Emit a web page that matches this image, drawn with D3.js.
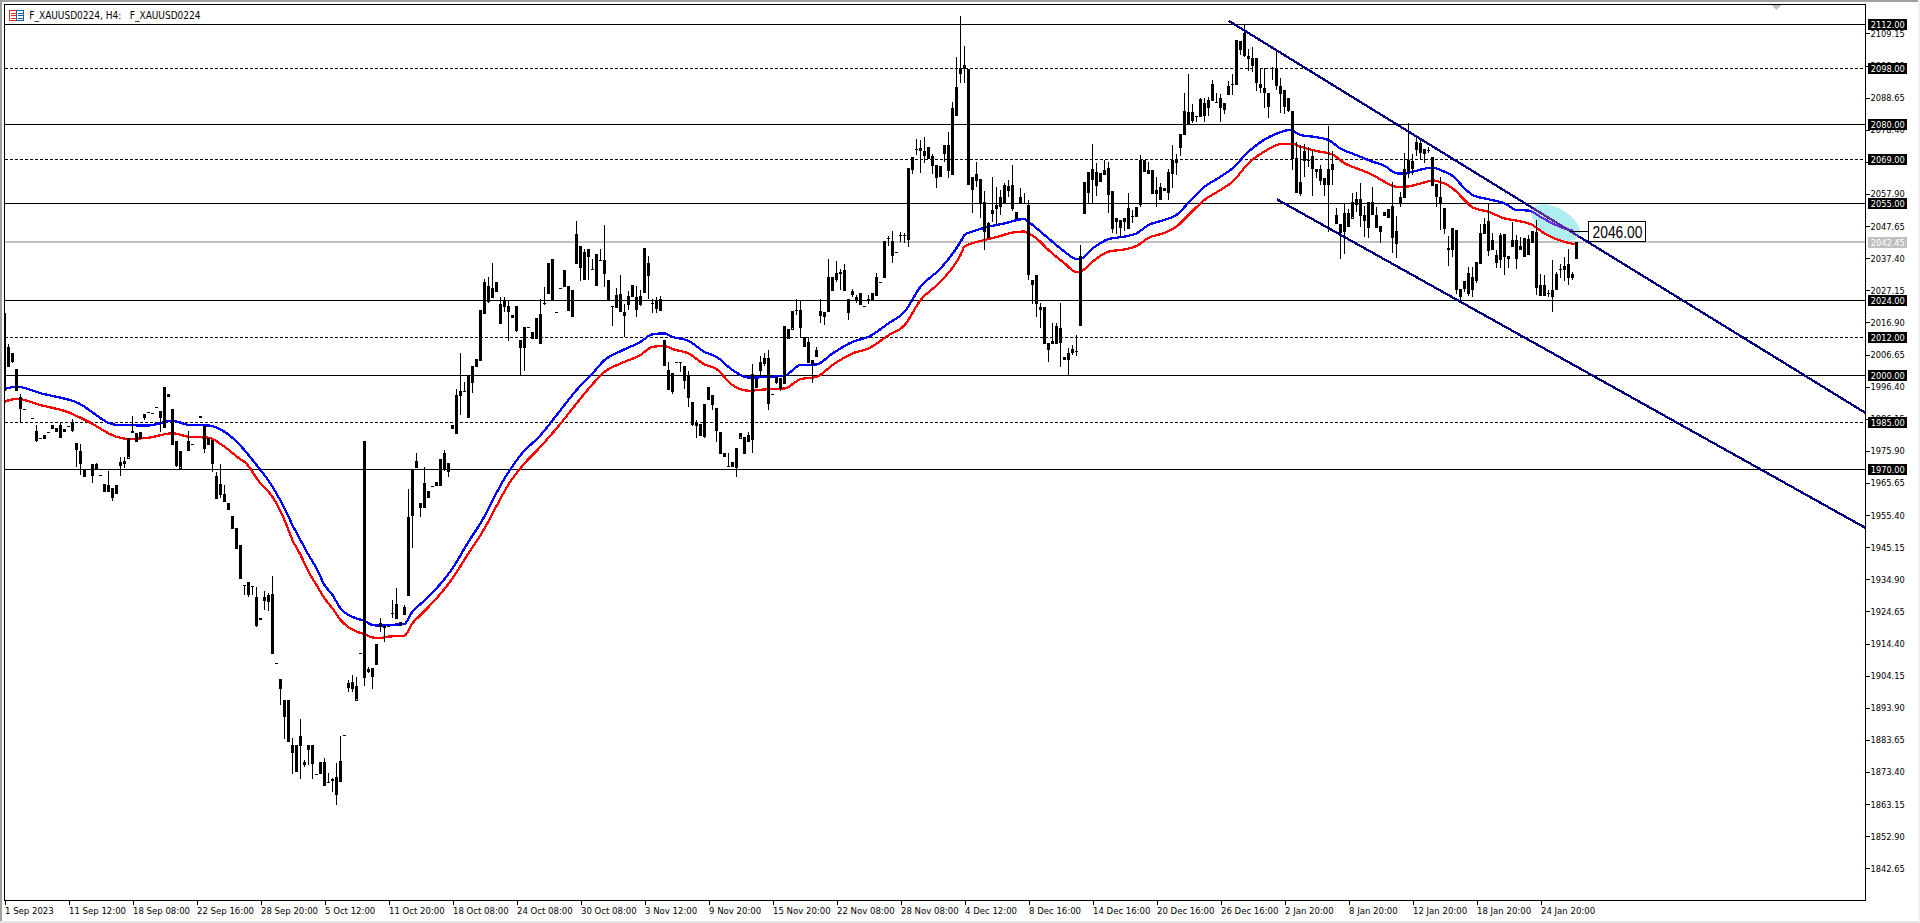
<!DOCTYPE html>
<html><head><meta charset="utf-8">
<script src="https://cdnjs.cloudflare.com/ajax/libs/d3/7.8.5/d3.min.js"></script>
<style>
html,body{margin:0;padding:0;background:#fff;overflow:hidden}
svg{display:block}
text{font-family:"DejaVu Sans Condensed","DejaVu Sans","Liberation Sans",sans-serif}
</style></head><body><div id="c"></div>
<script>
const title="F_XAUUSD0224, H4:   F_XAUUSD0224";
const open=[
2020,2002.8,2007,2002,1993,1989.3,null,1986.3,1982.1,1979.9,
1981,1982,1984,1983.1,1984,1982.9,1983.9,1985,1978.3,1976,
1967.7,null,1968.2,1971.7,1968.2,1965.3,1965,1961,1965,1972.4,
1972.7,1973.8,1982.2,1979.1,1981.8,1987.6,1988.2,1987.9,1989.9,1986.8,
1983.4,1994,1989.2,1979,1970.6,null,1976,1978.2,null,1987,
1983.8,1978,1979.4,1961,1965.3,1962.1,1959.1,1955.1,1951.2,1946,
1933.1,1933.9,1932.9,1929.1,1922.4,1928.1,1928.1,1930.2,1908.1,1903.1,
1896.4,1896.4,1879.8,1881.9,1882,1876.6,1880.6,1882,1872.9,1876.5,
1876.7,1870.3,1871.1,1871.7,1870.6,1885.1,1900.4,1902,1896.6,1911.3,
1979,1906.3,1903.8,1907.7,1920.1,1920.1,1920.1,1924,1926.9,1921.4,
1923.8,1929.9,1955.2,1970.9,1959.4,1957.8,1963.2,1964.7,1965.9,1964.8,
1975.1,1969.5,1982.9,1981.5,1993.5,1995.1,1986.8,1998,2002.8,2005,
2020,2028.5,2025.1,2027,2016.8,2023.8,2022,2019.2,2022,2011.4,
2008.8,2015.4,2013.9,2011.7,2019.7,2023,2026.3,2037,2020.1,2028,
2033.6,2028.5,2018.7,2035.9,2041.2,2030.8,2040.2,2034,2028.7,2036.8,
2036.8,2030.4,2022.1,2021.7,2025.9,2019,2022.5,2025.1,2024.9,2022.7,
2026.3,2036,2023.1,2023.8,2024.5,2011.2,2001.7,1995.3,2004.3,2004.3,
2003.1,1999.9,1991.4,1984.9,1984.4,1980.9,1996.4,1993.7,1989.6,1982,
1974,1971.2,1972.3,1970.6,1980.2,1975.3,1981.1,1979.5,1996.1,2001.7,
2005.5,2005.7,1994,1997.8,1999.3,1997.7,2012,2015,2020.8,2021,
2012.1,2010.5,2004.9,2008,2020.6,2018.8,2020.6,2031.4,2030.7,2033,
2033.6,2024.5,2027,2023.8,2022.8,2022.1,2024.5,2024,2025.6,2029.7,
2031.4,2044,2043,2039.3,2044.7,2044.7,2043.4,2066.1,2072.3,2072.5,
2070.3,2072.8,2070,2067.1,2066.8,2071,2073.5,2064.2,2083.2,2096.3,
2099,2097.8,2063.2,2064.3,2062.6,2055.2,2044,2052,2053.6,2054.2,
2055.3,2059.2,2060.8,2052,2056.8,2055.1,2054.4,2030.6,2031.9,2021.9,
2021.9,2008.3,2010.4,2010.4,2015,2006,2005.4,2007.4,2007.9,2016,
2051.9,2058.6,2062.9,2065,2061.8,2064.3,2066.1,2058.8,2050.1,2049.6,
2049,2046.9,2051,2050.9,2054.7,2068.7,2065.7,2065.5,2059.2,2060,
2059.9,2058.7,2064.5,2068.7,2072.8,2077.2,2084.2,2081.5,2082.8,2082.6,
2087.1,2085.7,2092.9,2087.4,2088.4,2085.2,2089.8,2093,2093,2106.8,
2109.2,2101.9,2101.2,2101.2,2092.9,2091.6,2090,2098,2098,2092.3,
2091.1,2088.4,2084.4,2069.3,2058.4,2071.6,2068.7,2070.1,2065.1,2065.8,
2062.9,2061.3,2065.9,2051.2,2048.3,2045.8,2051.9,2050.4,2054.6,2056.2,
2051.2,2047.5,2055.3,2051.2,2047.7,2051,2050.6,2054,2042.1,2055.4,
2057,2065.5,2068.5,2072.1,2074.3,2070.9,2072,2069.6,2061,2056.8,
2053.3,2040.8,2040.2,2046.4,2027.5,2030,2026.4,2031.5,2030.4,2035.9,
2045.4,2049.2,2040.2,2038.4,2037.2,2045.1,2038,2041.4,2043.2,2040.4,
2038.1,2038.7,2042.6,2045.8,2029,2029,2026.2,2025.6,2027.4,2034.1,
2033.8,2035.5,2031.3,2037.6];
const high=[
2020.2,2010,2007,2002,1994,1989.3,null,1986.3,1984.1,1979.9,
1981,1982,1984,1983.1,1985,1982.9,1983.9,1986,1978.3,1978,
1970,null,1971.7,1972,1968.2,1965.3,1969.4,1963.9,1965,1974,
1974,1980.1,1987,1981.5,1981.8,1987.6,1988.2,1987.9,1989.9,1988.7,
1996.2,1994,1989.2,1979,1975.9,null,1982.2,1978.2,null,1987,
1983.8,1979.9,1979.4,1969,1971.7,1965,1959.1,1955.1,1951.2,1946,
1933.1,1933.9,1932.9,1932.6,1922.4,1931.2,1930.4,1936,1908.1,1903.1,
1896.4,1896.4,1884.1,1881.9,1890.2,1877.3,1881.9,1882,1872.9,1876.5,
1877.8,1873,1871.4,1876.4,1884.9,1885.1,1902.8,1904.4,1903.8,1911.3,
1979,1907,1906.5,1914.1,1922.4,1920.1,1920.1,1928.3,1932,1921.4,
1926.7,1963.6,1970,1975.3,1959.4,1970.9,1963.2,1964.7,1965.9,1973.2,
1976.2,1971.9,1984,1995.7,2007,1997.8,1999.8,2003.1,2005.1,2020.9,
2030.9,2031.4,2036,2029.9,2025,2025,2024,2019.2,2022,2011.4,
2015.3,2015.4,2013.9,2018.2,2024.5,2028.3,2035.9,2037,2020.1,2028,
2033.6,2028.5,2027.1,2049.2,2041.2,2040.2,2040.2,2037.3,2038.6,2040.2,
2047.9,2030.4,2022.1,2028,2032,2022.9,2027,2028.7,2028.5,2027.2,
2040.5,2038,2024.5,2025,2025.3,2011.2,2004.3,2000.9,2004.3,2004.3,
2003.1,2001.5,1991.4,1985.7,1984.4,1991,1996.4,1993.7,1989.6,1982,
1975.1,1975.1,1972.3,1976.7,1981.7,1980.4,1982,2003.5,1998.7,2006.1,
2007.2,2008,1994,1999.5,1999.3,2015.8,2014.9,2020.6,2024.5,2023.8,
2012.1,2012.1,2005,2008.9,2024.5,2020.2,2037.3,2031.4,2036.4,2034,
2035.5,2024.5,2027.7,2025.5,2026.4,2022.1,2025.6,2026.3,2032.8,2029.7,
2042.9,2044.4,2046,2039.3,2045.8,2045.5,2066.1,2069.8,2075.3,2075.1,
2076,2072.8,2070.6,2067.1,2066.8,2073.5,2077.8,2087.3,2101.7,2114.8,
2105,2097.8,2063.2,2068,2062.6,2058.8,2049,2063.2,2060.2,2059.1,
2061.5,2062.4,2067.1,2052,2059.7,2058.1,2056,2030.6,2031.9,2023.2,
2021.9,2010.2,2016.8,2016.6,2023,2006,2008.6,2009.7,2012.9,2041.6,
2061.8,2065,2074,2067.7,2064.5,2068.9,2068.2,2058.8,2050.1,2049.6,
2050.1,2058.3,2052.8,2053.8,2070.3,2068.7,2068,2065.5,2063.2,2061.5,
2059.9,2066,2073.5,2070.6,2076.9,2090,2096.2,2086.6,2082.8,2088.6,
2088.4,2089,2094.3,2090,2089.8,2087,2094,2096.2,2107,2106.8,
2111.8,2104.3,2104.9,2101.2,2098,2098,2090,2098.5,2103.3,2094.8,
2091.1,2088.4,2084.4,2074.6,2073.5,2074,2073,2072,2065.8,2067.1,
2062.9,2079.6,2071.7,2053.3,2048.3,2054.9,2053,2058.3,2058.5,2061.5,
2054,2055.4,2060,2053.8,2047.7,2052,2053,2061.8,2051,2058.6,
2071,2080.4,2070.8,2076.2,2075.1,2072.3,2073,2069.6,2061,2063.4,
2053.3,2044.5,2046.9,2046.4,2027.5,2030,2034.5,2034.5,2036.1,2048.3,
2050.1,2054.7,2045.3,2040,2045.5,2045.1,2038,2049,2044.8,2044.2,
2044,2044.8,2046,2049.5,2032.3,2032,2027.4,2036.8,2033.1,2035.5,
2037.7,2040.2,2033.1,2042.6];
const low=[
1993.2,2002.8,2004,1995,1985,1989,null,1986.3,1978.8,1979.9,
1979.7,1982,1982.8,1981.9,1980,1982,1983.9,1982,1970.9,1968.2,
1967.5,null,1965.7,1970,1968.2,1962.9,1962.9,1960,1962.1,1968,
1970.3,1973.8,1981.7,1979.1,1979.7,1985.8,1988.2,1987.9,1989.9,1982,
1983.4,1993,1977.8,1970.9,1970.6,null,1976,1978.2,null,1986.5,
1975.1,1978,1969,1961,1961,1959.7,1957,1951.1,1944.5,1935.1,
1929.9,1929.1,1929.9,1919.8,1921.9,1925.1,1924.9,1911.2,1908.1,1894.8,
1883.8,1883.1,1872.8,1873.4,1871.3,1874.9,1875.6,1871,1872.9,1872.8,
1869,1870,1867.1,1862.7,1870.6,1885.1,1899,1899,1896.6,1911.3,
1900.9,1904.9,1899.9,1907.7,1918.2,1915,1920.1,1922.4,1922.2,1920.1,
1923.8,1929.9,1944.9,1970.9,1954.9,1957.8,1961,1964.7,1964.7,1964.8,
1969.6,1967.7,1982.9,1981.5,1987.4,1995,1986.8,1994.5,2002.8,2005,
2020,2023,2025.1,2027,2016.8,2020.3,2011,2018.4,2013.9,2000,
2001.4,2015.4,2011.7,2011.7,2010,2022.4,2026.3,2024,2020.1,2028,
2028.3,2020.6,2018.7,2035.9,2030.2,2030.8,2030.4,2034,2028.7,2036.8,
2028.3,2024,2015.8,2021.7,2020.2,2012.1,2021,2025.1,2018.7,2022.1,
2026.3,2024.5,2020,2020,2020.6,2003,1995.3,1993.9,2004.3,2001.1,
1995.8,1990,1983.9,1979.9,1980.6,1980,1992.1,1988.9,1978.8,1974.9,
1974,1970.6,1970.6,1967.6,1980.2,1975.3,1978.8,1975.3,1996.1,2000,
2003,1988.9,1994,1997.2,1995,1997.7,2012,2015,2019.2,2011.8,
2008.9,2003.8,1997.7,2005.9,2016.6,2016,2020.6,2027,2029.8,2027.2,
2027,2017.8,2025.1,2023,2022.8,2022.1,2022.7,2024,2025.6,2029.7,
2031.4,2041.2,2035.9,2039.3,2042.6,2042.4,2041.1,2064.3,2070.3,2064.5,
2067.7,2069,2064.3,2059.9,2063.4,2068.2,2063.1,2064.2,2083.2,2093.4,
2093.4,2060.8,2051.9,2060,2050.3,2040,2044,2049,2047.7,2051.2,
2055.3,2057,2052.5,2049.8,2054.7,2055.1,2030.4,2022.7,2018.7,2015,
2010.2,2004.3,2010.4,2010.4,2002.8,2005.1,2000,2006.4,2006.2,2016,
2051.9,2055,2054.9,2057.2,2061.8,2064.3,2051.7,2045.5,2045,2043.7,
2046,2046.9,2048.7,2050.9,2053.6,2065,2064.5,2057.9,2053.8,2056,
2058.9,2056,2059.7,2064,2070,2077.2,2080.4,2080.4,2081,2082.6,
2081,2082.8,2087.6,2087.4,2081,2083.4,2089.8,2089.5,2093,2102.2,
2101.7,2097,2096.9,2090.9,2090,2085.5,2082.3,2094.3,2091,2083.6,
2083.4,2084.2,2065.5,2058.1,2057.3,2063.4,2066.6,2057.3,2063,2060.8,
2057.3,2045.8,2060.8,2048.3,2037,2038.7,2047.5,2050.4,2052,2047.5,
2044.3,2043.7,2051.2,2046.9,2042.1,2051,2050.6,2039,2037.6,2053.8,
2057,2062.9,2064,2070,2068.7,2067.7,2071,2060.4,2053.8,2046.4,
2045,2034.9,2037.9,2026,2023.5,2026.7,2025.3,2024.9,2029.6,2035.9,
2045.4,2038.1,2040.2,2034.2,2034.2,2032,2034.2,2041.4,2033.9,2040.4,
2038.1,2038.7,2042.6,2025.6,2025.4,2025.6,2025,2020.3,2027.4,2031,
2030.2,2028.9,2030.5,2037.6];
const close=[
1995,2009,2004,1995,1989.2,1989,null,1986.3,1978.8,1979.9,
1979.7,1982,1982.8,1981.9,1980,1982,1983.9,1982,1976,1971.9,
1970,null,1971.7,1970,1968.2,1962.9,1962.9,1963.9,1962.1,1971,
1971.9,1980.1,1981.7,1981.5,1979.7,1986.3,1988.2,1987.9,1989.9,1988.7,
1996.2,1993,1977.8,1970.9,1975.9,null,1979,1978.2,null,1986.5,
1976.6,1979.9,1971.6,1967.9,1961.8,1959.7,1957,1951.1,1944.5,1935.1,
1933.1,1929.9,1932.9,1919.8,1921.9,1929.1,1929.9,1911.2,1908.1,1899.9,
1891.1,1883.1,1881.9,1873.4,1885,1875.6,1881.9,1875.8,1872.9,1872.8,
1869,1870,1870.6,1866,1877,1885.1,1901.7,1899.9,1901,1911.3,
1903.2,1905.2,1906.5,1914.1,1921.1,1919.5,1920.1,1924,1922.2,1920.1,
1926,1954.7,1970,1972.7,1957.9,1965.5,1961,1964.7,1964.7,1973.2,
1969.6,1971.9,1984,1993.6,1994.9,1995.1,1999.8,2003.1,2005.1,2020.9,
2029.9,2023.5,2028,2029.9,2022.9,2021.9,2020,2018.4,2013.9,2008.8,
2015.3,2015.4,2011.7,2018.2,2010,2023,2035.9,2024,2020.1,2028,
2028.3,2020.6,2027.1,2045,2034.2,2039.5,2037.8,2034,2038.6,2036.8,
2032.4,2024,2022.1,2025.5,2020.2,2020.1,2025.2,2028.7,2020.6,2025.2,
2040.5,2031.7,2023.1,2021.2,2020.6,2003,1995.3,2000.9,2004.3,2004.3,
1998.3,1992.8,1983.9,1983.9,1980.6,1991,1992.1,1990.4,1982.2,1974.9,
1975.1,1971.2,1970.6,1976.7,1981.7,1980.4,1978.8,2000.3,1998.7,2004.3,
2003.6,1991,1994,1999.5,1995.8,2015.8,2014.9,2020.6,2020.8,2015.2,
2008.9,2003.8,2003.3,2005.9,2019,2020.2,2031.4,2027,2032.7,2032.5,
2027,2020,2025.8,2024.9,2026.4,2022.1,2023.8,2026.3,2031.4,2029.7,
2042.9,2044,2038.1,2039.3,2044.7,2044.7,2066.1,2069.8,2072.3,2071.4,
2071.7,2069,2066.9,2062.8,2063.4,2073.5,2065.2,2085.2,2092.1,2098,
2097.8,2060.8,2059,2062.1,2054.6,2045.5,2048.5,2052.8,2054.4,2057,
2060.8,2060.5,2053,2049.8,2054.7,2055.1,2032,2029,2022.7,2020.9,
2010.2,2010.2,2011,2015.9,2010.2,2005.1,2007.2,2008.3,2007.9,2038.1,
2061.8,2065,2066,2060.4,2064.5,2065.6,2057.6,2046.7,2048.7,2046.9,
2050.1,2053.3,2051,2053.8,2068.7,2065,2064.5,2057.9,2057.9,2056,
2058.9,2065,2068.7,2067.9,2076.9,2084.5,2080.4,2084,2082.8,2088.1,
2083,2087.9,2087.6,2087.4,2085.2,2087,2092.4,2093,2107,2103.8,
2101.7,2101,2098.8,2093.2,2091.6,2090,2085.5,2098,2092.1,2089.8,
2085.8,2084.2,2069,2058.1,2061.8,2068.4,2068.7,2066,2065.8,2062,
2060.6,2066,2067.5,2048.3,2045.3,2051.7,2047.5,2055.4,2056.2,2050.9,
2049.4,2055.4,2051.2,2046.9,2045.9,2052,2053,2043.7,2046,2057,
2066,2068.9,2066,2074.4,2071.1,2072.3,2072,2060.4,2057,2054.6,
2046.6,2040.2,2046.9,2027.3,2024.9,2027.5,2032.8,2027.5,2036.1,2045.6,
2048.2,2039.5,2043.2,2035.9,2044.8,2037.9,2037.2,2043.2,2037.2,2041.3,
2044,2043.5,2046,2028,2025.4,2025.6,2026.2,2027.4,2032.3,2034.1,
2034.9,2031,2032.3,2042.6];

const blueBars=[0,3,9,18,28,36,42,46,51,58,62,64,66,68,70,72,74,76,78,80,82,84,86,88,90,92,94,96,100,102,104,108,112,116,119,125,129,134,139,143,147,150,154,159,162,165,167,171,175,178,182,186,191,195,199,203,207,212,216,221,225,229,234,239,240,242,245,248,250,254,255,256,261,265,268,269,272,276,280,283,286,290,293,296,300,304,307,311,316,319,321,322,324,327,331,334,338,342,345,348,350,352,357,360,362,365,367,371,375,378,381,384,387,390,392];
const blueValues=[1995.6,1996.4,1994.3,1991.4,1984.2,1984,1985.5,1984.2,1984,1978.9,1973,1969.8,1966.4,1962.3,1957.6,1952.2,1947.4,1942.7,1938.4,1933.1,1929.9,1925.6,1923.5,1922.4,1921.6,1920.3,1920.1,1920.3,1920.7,1924.6,1927,1932,1938.4,1946.9,1952.8,1967.1,1974.5,1980.9,1988.9,1995.3,2000.6,2004.9,2007.7,2010.7,2013.1,2013.4,2012.3,2011,2007.5,2005.9,2001.7,1999.3,1999.5,1999.9,2003.3,2003.5,2007,2010.7,2012.3,2016.6,2020.3,2028.3,2034.1,2042.6,2044.8,2045.9,2047.1,2048,2048.5,2049.8,2049.9,2049,2043.7,2039.5,2037.1,2037.2,2040.5,2043.5,2044.3,2045.3,2048,2049.6,2051.2,2055.1,2060.2,2063.4,2066.1,2071.4,2076,2077.6,2078.3,2078.1,2076.7,2076.2,2075.1,2072.4,2070.3,2068.2,2066.9,2064.5,2064.4,2065,2066.3,2065,2063.7,2059.7,2057.6,2056.2,2054.9,2052.8,2052.6,2050.6,2048.5,2046.9,2046.2];
const redBars=[0,3,9,16,21,28,31,36,42,46,51,55,59,60,64,66,68,70,72,74,76,78,80,82,84,86,88,90,92,94,96,100,102,104,108,112,116,119,127,130,134,139,143,147,150,154,159,162,165,167,171,175,178,182,186,191,195,199,203,207,212,216,221,225,229,234,239,240,245,249,252,255,256,258,261,265,268,269,272,276,280,283,286,290,293,296,300,304,307,311,316,319,322,324,328,332,335,338,342,345,348,350,355,357,360,362,365,367,371,375,378,382,385,387,390,393];
const redValues=[1991.6,1992.5,1990.5,1988.2,1985.2,1980.4,1979.7,1980.1,1981.5,1980.4,1980.1,1977.2,1973.2,1972.4,1965.5,1962.9,1959.1,1953.8,1947.4,1942.7,1937.3,1933.1,1928.8,1925.6,1921.9,1919.6,1918.2,1917.4,1916.3,1916.2,1916.6,1916.9,1920.9,1923.5,1928.8,1935.2,1943.2,1949,1967.1,1971.9,1977.2,1984.6,1991,1997.2,2001.1,2003.8,2006.5,2009.1,2009.4,2008.4,2007,2003.5,2002,1996.9,1995.1,1995.6,1995.8,1998.8,1999.5,2003.3,2007,2008.6,2012.8,2016,2024,2029.9,2038.4,2041.1,2043.2,2044.5,2045.6,2045.9,2045.3,2043.7,2040,2035.8,2032.9,2033.1,2036.3,2039.5,2040.2,2041.3,2043.9,2045.5,2047.5,2051.2,2056,2059.2,2061.8,2067.7,2072.2,2073.8,2073.9,2073,2071.6,2070.5,2067.7,2066.1,2064,2061.8,2060.2,2060.2,2061.6,2062.2,2061.2,2059.7,2056,2053.6,2052.2,2050.1,2049.4,2048,2045.3,2044,2042.6,2041.8];

const solidLevels=[2112,2080,2055,2024,2000,1970];
const dashedLevels=[2098,2069,2012,1985];
const currentPrice=2042.45;
const priceTicks=[2109.15,2098.90,2088.65,2078.40,2068.15,2057.90,2047.65,2037.40,2027.15,2016.90,2006.65,1996.40,1986.15,1975.90,1965.65,1955.40,1945.15,1934.90,1924.65,1914.40,1904.15,1893.90,1883.65,1873.40,1863.15,1852.90,1842.65];
const timeTickBars=[0,16,32,48,64,80,96,112,128,144,160,176,192,208,224,240,256,272,288,304,320,336,352,368,384];
const timeTickLabels=["1 Sep 2023","11 Sep 12:00","18 Sep 08:00","22 Sep 16:00","28 Sep 20:00","5 Oct 12:00","11 Oct 20:00","18 Oct 08:00","24 Oct 08:00","30 Oct 08:00","3 Nov 12:00","9 Nov 20:00","15 Nov 20:00","22 Nov 08:00","28 Nov 08:00","4 Dec 12:00","8 Dec 16:00","14 Dec 16:00","20 Dec 16:00","26 Dec 16:00","2 Jan 20:00","8 Jan 20:00","12 Jan 20:00","18 Jan 20:00","24 Jan 20:00"];
const channelBars=[[306,465.25],[318.1,465.25]];
const channelPrices=[[2113.2,1988.0],[2056.2,1951.3]];
const markerBars=[391,396];
const markerPrice=2046;
const zoneBar=387.8, zonePrice=2048.8;

const W=1920,H=923,L=4.5,R=1865.5,T=4.5,B=900.5;
const x=d3.scaleLinear().domain([0,1]).range([4.5,8.5]);
const y=d3.scaleLinear().domain([2112,1842.65]).range([24.5,868.3]);
const svg=d3.select("#c").append("svg").attr("width",W).attr("height",H);
const defs=svg.append("defs");
defs.append("clipPath").attr("id","plot").append("rect").attr("x",L).attr("y",T).attr("width",R-L).attr("height",B-T);
const zoneAttrs=s=>s.attr("transform",`translate(${x(zoneBar)},${y(zonePrice)}) rotate(30)`).attr("rx",27).attr("ry",14);
defs.append("clipPath").attr("id","zone").append("ellipse").call(zoneAttrs);

// window chrome
svg.append("rect").attr("width",W).attr("height",2).attr("fill","#a0a0a0");
svg.append("rect").attr("width",2).attr("height",H).attr("fill","#a0a0a0");
svg.append("rect").attr("y",921).attr("width",W).attr("height",2).attr("fill","#e4e4e4");
svg.append("rect").attr("x",1918).attr("width",2).attr("height",H).attr("fill","#f0f0f0");

const g=svg.append("g").attr("clip-path","url(#plot)");
g.append("ellipse").call(zoneAttrs).attr("fill","#AFEEEE");
const crisp=s=>s.attr("shape-rendering","crispEdges");
// levels
g.append("line").attr("x1",L).attr("x2",R).attr("y1",Math.round(y(currentPrice))).attr("y2",Math.round(y(currentPrice))).attr("stroke","#C0C0C0").attr("stroke-width",2).call(crisp);
g.selectAll(".lvl").data(solidLevels.concat(dashedLevels)).join("line").attr("x1",L).attr("x2",R)
 .attr("y1",d=>Math.floor(y(d))+.5).attr("y2",d=>Math.floor(y(d))+.5).attr("stroke","#000").attr("stroke-width",1)
 .attr("stroke-dasharray",d=>dashedLevels.includes(d)?"3,2":null).call(crisp);

// moving averages
const lineGen=d3.line().curve(d3.curveMonotoneX);
const bluePath=lineGen(blueBars.map((b,i)=>[x(b),y(blueValues[i])]));
const redPath=lineGen(redBars.map((b,i)=>[x(b),y(redValues[i])]));
const ch=(i)=>d3.line()(channelBars[i].map((b,j)=>[x(b),y(channelPrices[i][j])]));
const stroke=(p,c,w)=>p.attr("fill","none").attr("stroke",c).attr("stroke-width",w).attr("stroke-linejoin","round").call(crisp);
g.append("path").attr("d",bluePath).call(stroke,"#0000FF",2.3);
g.append("path").attr("d",redPath).call(stroke,"#FF0000",2.3);

// candles
const idx=d3.range(open.length).filter(i=>open[i]!==null);
g.selectAll(".wick").data(idx).join("line").attr("x1",i=>Math.floor(x(i))+.5).attr("x2",i=>Math.floor(x(i))+.5)
 .attr("y1",i=>y(high[i])).attr("y2",i=>y(low[i])).attr("stroke","#000").attr("stroke-width",1).call(crisp);
g.selectAll(".body").data(idx).join("rect").each(function(i){
  const up=close[i]>open[i];
  const top=y(Math.max(open[i],close[i])),bot=y(Math.min(open[i],close[i]));
  const s=d3.select(this).call(crisp);
  if(up){ s.attr("x",x(i)-1).attr("width",2).attr("y",Math.round(top)+.5).attr("height",Math.max(1,Math.round(bot-top))).attr("fill","none").attr("stroke","#000"); }
  else  { s.attr("x",x(i)-1.5).attr("width",3).attr("y",Math.round(top)).attr("height",Math.max(1,Math.round(bot-top))).attr("fill","#000"); }
});

// channel + marker
g.append("path").attr("d",ch(0)).call(stroke,"#000080",2.3);
g.append("path").attr("d",ch(1)).call(stroke,"#000080",2.3);
const inZone=g.append("g").attr("clip-path","url(#zone)");
inZone.append("path").attr("d",bluePath).call(stroke,"#6A2CE0",2.3);
inZone.append("path").attr("d",ch(0)).call(stroke,"#5A2A9E",2.3);
g.append("line").attr("x1",x(markerBars[0])).attr("x2",x(markerBars[1])).attr("y1",Math.floor(y(markerPrice))+.5).attr("y2",Math.floor(y(markerPrice))+.5).attr("stroke","#000").call(crisp);
const mk=svg.append("g").attr("transform",`translate(${x(markerBars[1])},${Math.floor(y(markerPrice))+.5})`);
mk.append("rect").attr("x",0).attr("y",-10).attr("width",57).attr("height",20).attr("fill","#fff").attr("stroke","#000").call(crisp);
mk.append("text").attr("x",4).attr("y",6).attr("font-size",16).attr("textLength",50).attr("lengthAdjust","spacingAndGlyphs").attr("fill","#000").style("font-family","'Liberation Sans',sans-serif").text(markerPrice.toFixed(2));

// frame
svg.append("rect").attr("x",L).attr("y",T).attr("width",R-L).attr("height",B-T).attr("fill","none").attr("stroke","#000").call(crisp);
svg.append("path").attr("d",d3.line()([[1771.5,5],[1781.5,5],[1776.5,10]])).attr("fill","#c0c0c0");

// axes
const ay=d3.axisRight(y).tickValues(priceTicks).tickSize(4).tickPadding(1).tickFormat(d3.format(".2f"));
const yg=svg.append("g").attr("transform",`translate(${R},0)`).call(ay);
yg.select(".domain").remove();
yg.selectAll("text").attr("font-size",9.2).attr("fill","#000").style("font-family",null);
yg.selectAll("line").call(crisp);
const ax=d3.axisBottom(x).tickValues(timeTickBars).tickSize(4).tickPadding(2).tickFormat((d,i)=>timeTickLabels[i]);
const xg=svg.append("g").attr("transform",`translate(0,${B})`).call(ax);
xg.select(".domain").remove();
xg.selectAll("text").attr("font-size",9.5).attr("fill","#000").attr("text-anchor","start").attr("dy",null).attr("y",13).style("font-family",null);
xg.selectAll("line").call(crisp);

// level tags
const tag=(p,bg,fg)=>{
  const yy=Math.floor(y(p))+.5;
  svg.append("rect").attr("x",1868).attr("y",yy-5.5).attr("width",39).attr("height",11).attr("fill",bg).call(crisp);
  svg.append("text").attr("x",1870.7).attr("y",yy+3.5).attr("font-size",9.2).attr("fill",fg).text(p.toFixed(2));
};
solidLevels.concat(dashedLevels).forEach(p=>tag(p,"#000","#fff"));
tag(currentPrice,"#C0C0C0","#fff");

// title
const tg=svg.append("g");
tg.append("rect").attr("x",9.5).attr("y",10.5).attr("width",7).attr("height",10).attr("fill","#fff").attr("stroke","#e03020").call(crisp);
tg.append("rect").attr("x",16.5).attr("y",10.5).attr("width",7).attr("height",10).attr("fill","#fff").attr("stroke","#1060b0").call(crisp);
[13,15.5,18].forEach(v=>{
  tg.append("line").attr("x1",11).attr("x2",16).attr("y1",v).attr("y2",v).attr("stroke","#e03020").call(crisp);
  tg.append("line").attr("x1",18).attr("x2",23).attr("y1",v).attr("y2",v).attr("stroke","#1060b0").call(crisp);
});
svg.append("text").attr("x",29.3).attr("y",19).attr("font-size",10).attr("fill","#000").style("white-space","pre").text(title);
</script></body></html>
